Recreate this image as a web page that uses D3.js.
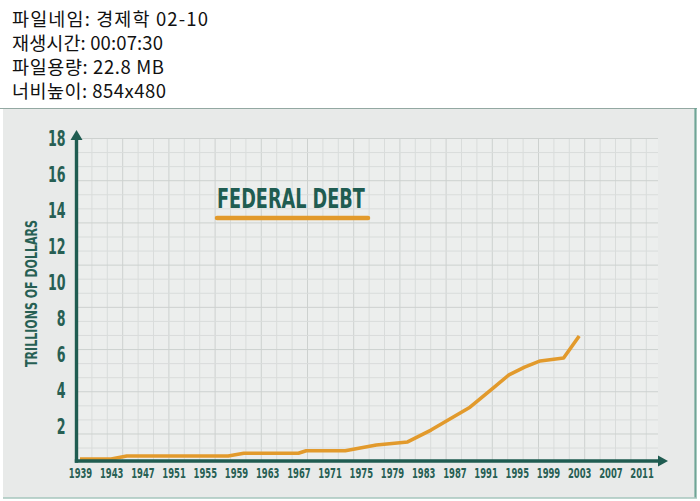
<!DOCTYPE html>
<html><head><meta charset="utf-8">
<script src="https://cdn.jsdelivr.net/npm/d3@7"></script>
<style>body{margin:0;background:#fff;overflow:hidden}svg{display:block}</style>
</head><body>
<svg id="c" width="700" height="501"></svg>
<script>
// ---- data ----
const headerLines = ["파일네임: 경제학 02-10", "재생시간: 00:07:30", "파일용량: 22.8 MB", "너비높이: 854x480"];
const years = [1939, 1943, 1945, 1958, 1960, 1967, 1968, 1973, 1977, 1981, 1984, 1989, 1992, 1994, 1996, 1998, 2001, 2003];
const debt  = [0.22, 0.22, 0.39, 0.39, 0.54, 0.54, 0.68, 0.68, 1.0, 1.17, 1.83, 3.1, 4.17, 4.9, 5.33, 5.67, 5.83, 7.06];
const yTickValues = [2, 4, 6, 8, 10, 12, 14, 16, 18];
const xTickValues = [1939, 1943, 1947, 1951, 1955, 1959, 1963, 1967, 1971, 1975, 1979, 1983, 1987, 1991, 1995, 1999, 2003, 2007, 2011];
const chartTitle = "FEDERAL DEBT";
const yTitle = "TRILLIONS OF DOLLARS";

// ---- styles ----
const TEAL = "#1f5c51", TEAL_TXT = "#275f54", ORANGE = "#e29a2c";
const NARROW = "'DejaVu Sans',sans-serif";
const headerWidths = [196, 151, 152, 154];

const svg = d3.select("#c");

// squeeze a text horizontally to a target width (condensed look)
function squeeze(sel, targetFn, pre) {
  sel.each(function (d, i) {
    const t = d3.select(this);
    const w = this.getComputedTextLength();
    const s = targetFn(d, i) / w;
    t.attr("transform", (pre ? pre + " " : "") + `scale(${s},1)`);
    if (t.attr("x") !== null && t.attr("text-anchor") !== "middle" && t.attr("text-anchor") !== "end") {
      t.attr("x", +t.attr("x") / s);
    }
  });
}

// header
svg.append("g").selectAll("text").data(headerLines).join("text")
  .attr("x", 12).attr("y", (d, i) => 26 + i * 24)
  .attr("font-family", "'Noto Sans CJK KR','Noto Sans',sans-serif")
  .attr("font-size", 18.5).attr("fill", "#111")
  .attr("textLength", (d, i) => headerWidths[i]).attr("lengthAdjust", "spacing")
  .text(d => d);

// frame
svg.append("rect").attr("x", 3).attr("y", 108).attr("width", 693).attr("height", 390).attr("fill", "#e8eae9");
svg.append("line").attr("x1", 0).attr("x2", 697).attr("y1", 108.5).attr("y2", 108.5).attr("stroke", "#93a8a2").attr("stroke-width", 1.2);
svg.append("line").attr("x1", 695.5).attr("x2", 695.5).attr("y1", 108).attr("y2", 498).attr("stroke", "#6fa596").attr("stroke-width", 2.2);
svg.append("line").attr("x1", 3).attr("x2", 697).attr("y1", 498).attr("y2", 498).attr("stroke", "#a6c6bd").attr("stroke-width", 1.5);

// scales
const x = d3.scaleLinear().domain([1939, 2011]).range([80, 641.6]);
const y = d3.scaleLinear().domain([0, 18]).range([463, 139]);

const axisX = 76.5, axisY = 461;

// decorative grid paper
const gridLeft = axisX, gridRight = 658, gridTop = 138.5;
svg.append("rect").attr("x", gridLeft).attr("y", gridTop).attr("width", gridRight - gridLeft).attr("height", axisY - gridTop).attr("fill", "#eceeed");
const colStep = 15.4, rowStep = 14.07;
const cols = d3.range(1, Math.floor((gridRight - gridLeft) / colStep) + 1);
const rows = d3.range(0, Math.floor((axisY - gridTop) / rowStep) + 1);
const grid = svg.append("g");
grid.selectAll("line.v").data(cols).join("line")
  .attr("x1", k => gridLeft + k * colStep).attr("x2", k => gridLeft + k * colStep)
  .attr("y1", gridTop).attr("y2", axisY)
  .attr("stroke", k => k % 3 === 0 ? "#cdd1cf" : "#d9dcdb").attr("stroke-width", 1);
grid.selectAll("line.h").data(rows).join("line")
  .attr("x1", gridLeft).attr("x2", gridRight)
  .attr("y1", k => gridTop + k * rowStep).attr("y2", k => gridTop + k * rowStep)
  .attr("stroke", k => k % 3 === 0 ? "#cdd1cf" : "#d9dcdb").attr("stroke-width", 1);

// title
const tt = svg.append("text").attr("x", 0).attr("y", 0).text(chartTitle)
  .attr("font-family", NARROW).attr("font-weight", "bold").attr("font-size", 26.5)
  .attr("fill", TEAL);
squeeze(tt, () => 148, "translate(217,207.5)");
svg.append("line").attr("x1", 217).attr("x2", 368).attr("y1", 218).attr("y2", 218)
  .attr("stroke", ORANGE).attr("stroke-width", 4.5).attr("stroke-linecap", "round");

// y axis title
const yt = svg.append("text").attr("text-anchor", "middle").text(yTitle)
  .attr("font-family", NARROW).attr("font-weight", "bold").attr("font-size", 16)
  .attr("fill", TEAL_TXT);
squeeze(yt, () => 147, "translate(37,293.5) rotate(-90)");

// data line
const pts = years.map((yr, i) => ({ yr, v: debt[i] }));
svg.append("path").datum(pts)
  .attr("d", d3.line().x(d => x(d.yr)).y(d => y(d.v)))
  .attr("fill", "none").attr("stroke", ORANGE).attr("stroke-width", 3.6)
  .attr("stroke-linejoin", "round").attr("stroke-linecap", "butt");

// axes with labels
const ya = svg.append("g").attr("transform", `translate(${axisX},0)`)
  .call(d3.axisLeft(y).tickValues(yTickValues).tickSize(0).tickPadding(11).tickFormat(d3.format("d")));
ya.select(".domain").remove();
const yl = ya.selectAll("text").attr("font-family", NARROW).attr("font-weight", "bold").attr("font-size", 21.5).attr("fill", TEAL_TXT)
  .attr("x", 0);
squeeze(yl, d => String(d).length * 8.8, "translate(-11,0)");

const xa = svg.append("g").attr("transform", `translate(0,${axisY})`)
  .call(d3.axisBottom(x).tickValues(xTickValues).tickSize(0).tickPadding(7).tickFormat(d3.format("d")));
xa.select(".domain").remove();
const xl = xa.selectAll("text").attr("font-family", NARROW).attr("font-weight", "bold").attr("font-size", 14.5).attr("fill", TEAL_TXT);
squeeze(xl, () => 23.5, "");

// axis lines with arrows
svg.append("line").attr("x1", axisX).attr("x2", axisX).attr("y1", axisY + 1.7).attr("y2", 138)
  .attr("stroke", TEAL).attr("stroke-width", 3.4);
svg.append("path").attr("d", `M${axisX},130 L${axisX + 6},140 L${axisX - 6},140 Z`).attr("fill", TEAL);
svg.append("line").attr("x1", axisX - 1.7).attr("x2", 660).attr("y1", axisY).attr("y2", axisY)
  .attr("stroke", TEAL).attr("stroke-width", 3.4);
svg.append("path").attr("d", `M668,${axisY} L658,${axisY - 5.5} L658,${axisY + 5.5} Z`).attr("fill", TEAL);
</script>
</body></html>
